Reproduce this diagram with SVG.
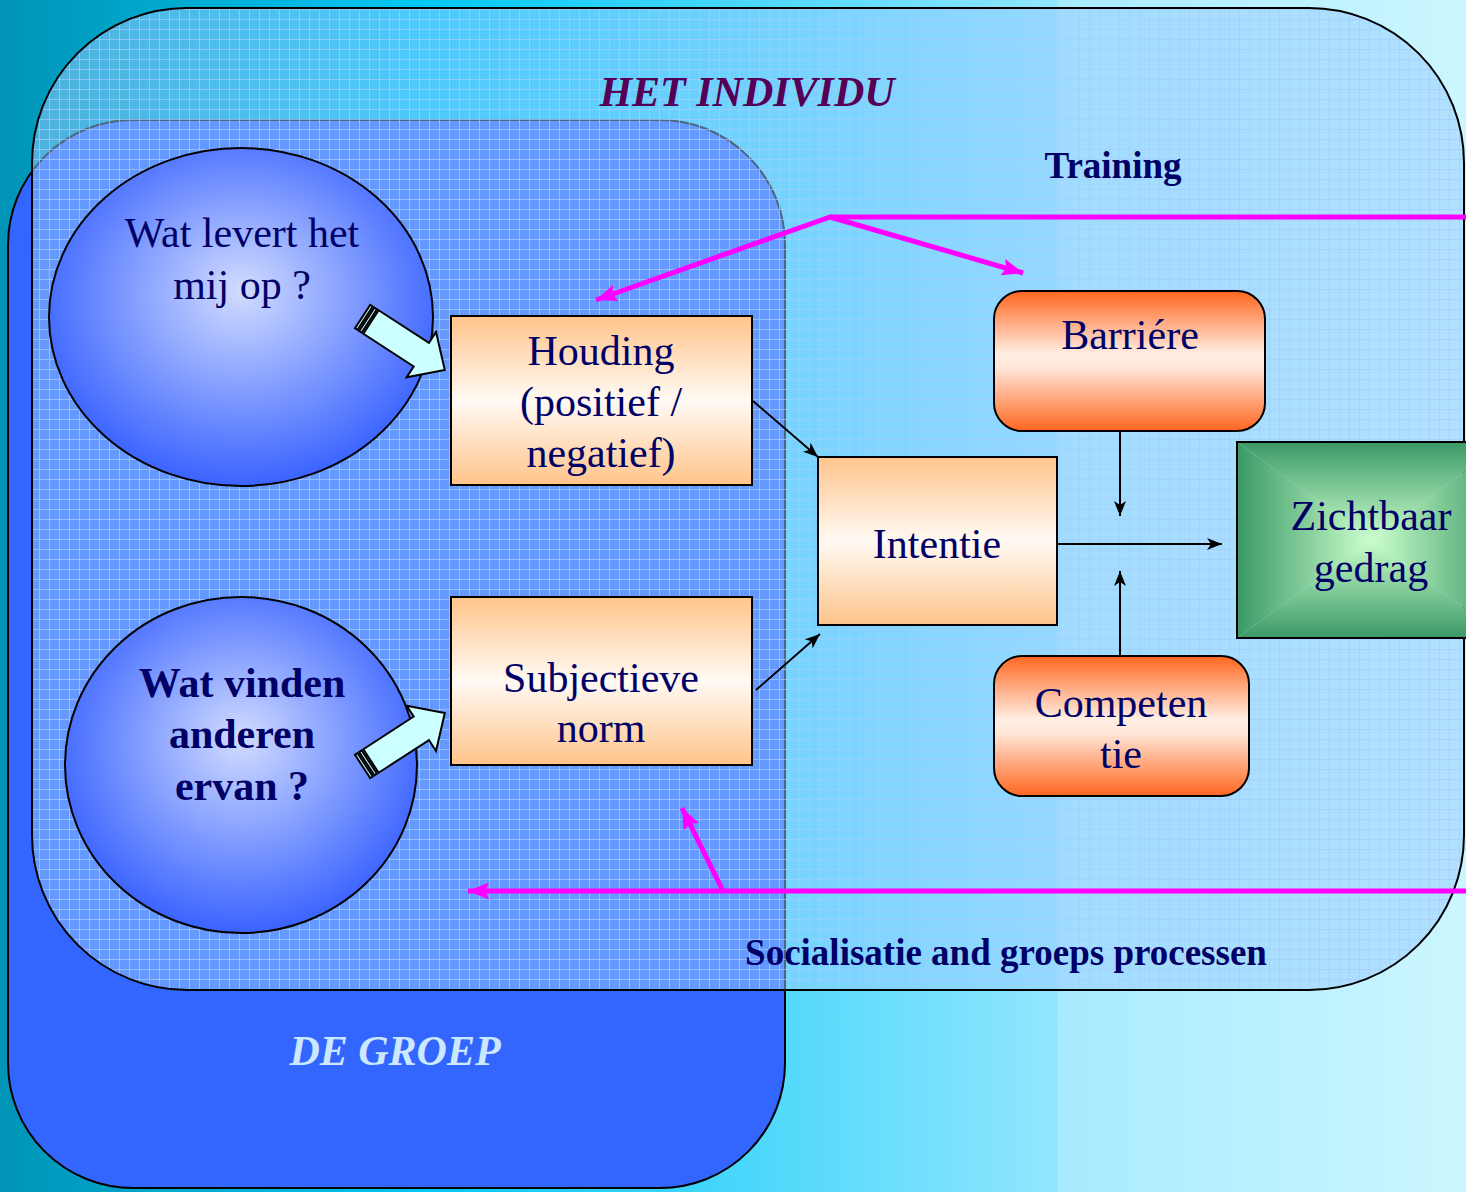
<svg xmlns="http://www.w3.org/2000/svg" width="1466" height="1192" viewBox="0 0 1466 1192">
  <defs>
    <style>
      .t { font-family: "Liberation Serif", "Times New Roman", serif; font-size: 42px; fill: #000066; text-anchor: middle; }
      .b { font-weight: bold; }
      .bi { font-weight: bold; font-style: italic; }
      .frame { stroke: #000; stroke-width: 2; }
      .conn { stroke: #000; stroke-width: 2; fill: none; marker-end: url(#blk); }
      .pink { stroke: #ff00ff; stroke-width: 5; fill: none; }
      .pinka { stroke: #ff00ff; stroke-width: 5; fill: none; marker-end: url(#pnk); }
      .barrow { fill: #ccffff; stroke: #000; stroke-width: 2; stroke-linejoin: miter; }
    </style>
    <linearGradient id="bg" x1="0" y1="0" x2="1466" y2="0" gradientUnits="userSpaceOnUse">
      <stop offset="0" stop-color="#0094b6"/>
      <stop offset="0.29" stop-color="#00c8f6"/>
      <stop offset="0.721" stop-color="#92e6ff"/>
      <stop offset="0.722" stop-color="#a8ebff"/>
      <stop offset="1" stop-color="#ccf6ff"/>
    </linearGradient>
    <pattern id="grid" x="0" y="0" width="10" height="10" patternUnits="userSpaceOnUse">
      <path d="M9.5 0 V10 M0 9.5 H10" stroke="#a6ccff" stroke-width="1" opacity="0.7" fill="none"/>
    </pattern>
    <radialGradient id="ball" cx="0.5" cy="0.45" r="0.55" fx="0.5" fy="0.42">
      <stop offset="0" stop-color="#d2dcff"/>
      <stop offset="0.35" stop-color="#9cb2ff"/>
      <stop offset="1" stop-color="#3a63ff"/>
    </radialGradient>
    <linearGradient id="peach" x1="0" y1="0" x2="0" y2="1">
      <stop offset="0" stop-color="#ffc48a"/>
      <stop offset="0.5" stop-color="#fffaf4"/>
      <stop offset="1" stop-color="#ffc48a"/>
    </linearGradient>
    <linearGradient id="red" x1="0" y1="0" x2="0" y2="1">
      <stop offset="0" stop-color="#ff661f"/>
      <stop offset="0.45" stop-color="#ffeee4"/>
      <stop offset="0.55" stop-color="#ffe6d8"/>
      <stop offset="1" stop-color="#ff661f"/>
    </linearGradient>
    <linearGradient id="gT" x1="0" y1="442" x2="0" y2="540" gradientUnits="userSpaceOnUse">
      <stop offset="0" stop-color="#3a9966"/><stop offset="1" stop-color="#ccffcc"/>
    </linearGradient>
    <linearGradient id="gB" x1="0" y1="638" x2="0" y2="540" gradientUnits="userSpaceOnUse">
      <stop offset="0" stop-color="#3a9966"/><stop offset="1" stop-color="#ccffcc"/>
    </linearGradient>
    <linearGradient id="gL" x1="1237" y1="0" x2="1371" y2="0" gradientUnits="userSpaceOnUse">
      <stop offset="0" stop-color="#3a9966"/><stop offset="1" stop-color="#ccffcc"/>
    </linearGradient>
    <linearGradient id="gR" x1="1505" y1="0" x2="1371" y2="0" gradientUnits="userSpaceOnUse">
      <stop offset="0" stop-color="#3a9966"/><stop offset="1" stop-color="#ccffcc"/>
    </linearGradient>
    <marker id="blk" markerWidth="8" markerHeight="6" refX="7.5" refY="3" orient="auto" markerUnits="strokeWidth">
      <path d="M0,0 L7.5,3 L0,6 L2,3 z" fill="#000"/>
    </marker>
    <marker id="pnk" markerWidth="4.4" markerHeight="3.4" refX="4.2" refY="1.7" orient="auto" markerUnits="strokeWidth">
      <path d="M0,0 L4.2,1.7 L0,3.4 L0.7,1.7 z" fill="#ff00ff"/>
    </marker>
    <g id="blockarrow">
      <path class="barrow" d="M0,-14 H60 V-27 L88,0 L60,27 V14 H0 Z"/>
      <path class="barrow" d="M-5,-14 H-2 V14 H-5 Z"/>
      <path class="barrow" d="M-10,-14 H-7 V14 H-10 Z"/>
    </g>
  </defs>

  <rect id="background" x="0" y="0" width="1466" height="1192" fill="url(#bg)"/>

  <g id="de-groep">
    <rect class="frame" x="8" y="120" width="777" height="1068" rx="125" ry="125" fill="#3366ff"/>
    <text class="t bi" x="395" y="1065" style="fill:#cce8ff">DE GROEP</text>
  </g>

  <g id="het-individu">
    <rect x="32" y="8" width="1432" height="982" rx="155" ry="155" fill="#99ccff" fill-opacity="0.5"/>
    <rect x="32" y="8" width="1432" height="982" rx="155" ry="155" fill="url(#grid)"/>
    <rect class="frame" x="32" y="8" width="1432" height="982" rx="155" ry="155" fill="none"/>
    <text class="t bi" x="747" y="106" style="fill:#550055">HET INDIVIDU</text>
  </g>

  <g id="wat-levert">
    <ellipse class="frame" cx="241" cy="317" rx="192" ry="169" fill="url(#ball)"/>
    <text class="t" x="242" y="247">Wat levert het</text>
    <text class="t" x="242" y="299">mij op ?</text>
  </g>

  <g id="wat-vinden">
    <ellipse class="frame" cx="241" cy="765" rx="176" ry="168" fill="url(#ball)"/>
    <text class="t b" x="242" y="697">Wat vinden</text>
    <text class="t b" x="242" y="748">anderen</text>
    <text class="t b" x="242" y="800">ervan ?</text>
  </g>

  <g id="block-arrows">
    <use href="#blockarrow" transform="translate(371,322) rotate(33)"/>
    <use href="#blockarrow" transform="translate(371,761) rotate(-33)"/>
  </g>

  <g id="houding">
    <rect class="frame" x="451" y="316" width="301" height="169" fill="url(#peach)"/>
    <text class="t" x="601" y="365">Houding</text>
    <text class="t" x="601" y="416">(positief /</text>
    <text class="t" x="601" y="467">negatief)</text>
  </g>

  <g id="subjectieve-norm">
    <rect class="frame" x="451" y="597" width="301" height="168" fill="url(#peach)"/>
    <text class="t" x="601" y="692">Subjectieve</text>
    <text class="t" x="601" y="742">norm</text>
  </g>

  <g id="intentie">
    <rect class="frame" x="818" y="457" width="239" height="168" fill="url(#peach)"/>
    <text class="t" x="937" y="558">Intentie</text>
  </g>

  <g id="barriere">
    <rect class="frame" x="994" y="291" width="271" height="140" rx="28" ry="28" fill="url(#red)"/>
    <text class="t" x="1130" y="349">Barriére</text>
  </g>

  <g id="competentie">
    <rect class="frame" x="994" y="656" width="255" height="140" rx="28" ry="28" fill="url(#red)"/>
    <text class="t" x="1121" y="717">Competen</text>
    <text class="t" x="1121" y="768">tie</text>
  </g>

  <g id="zichtbaar-gedrag">
    <polygon points="1237,442 1505,442 1371,540" fill="url(#gT)"/>
    <polygon points="1237,638 1505,638 1371,540" fill="url(#gB)"/>
    <polygon points="1237,442 1237,638 1371,540" fill="url(#gL)"/>
    <polygon points="1505,442 1505,638 1371,540" fill="url(#gR)"/>
    <rect class="frame" x="1237" y="442" width="268" height="196" fill="none"/>
    <text class="t" x="1371" y="530">Zichtbaar</text>
    <text class="t" x="1371" y="582">gedrag</text>
  </g>

  <g id="connectors">
    <line class="conn" x1="753" y1="401" x2="818" y2="457"/>
    <line class="conn" x1="756" y1="690" x2="820" y2="634"/>
    <line class="conn" x1="1058" y1="544" x2="1222" y2="544"/>
    <line class="conn" x1="1120" y1="431" x2="1120" y2="516"/>
    <line class="conn" x1="1120" y1="656" x2="1120" y2="571"/>
    <line class="pink" x1="829" y1="217" x2="1466" y2="217"/>
    <line class="pinka" x1="830" y1="217" x2="596" y2="300"/>
    <line class="pinka" x1="830" y1="217" x2="1023" y2="273"/>
    <line class="pinka" x1="1466" y1="891" x2="468" y2="891"/>
    <line class="pinka" x1="723" y1="891" x2="682" y2="808"/>
  </g>

  <g id="labels">
    <text class="t b" x="1113" y="178" style="font-size:37px">Training</text>
    <text class="t b" x="1006" y="965" style="font-size:37px">Socialisatie and groeps processen</text>
  </g>
</svg>
